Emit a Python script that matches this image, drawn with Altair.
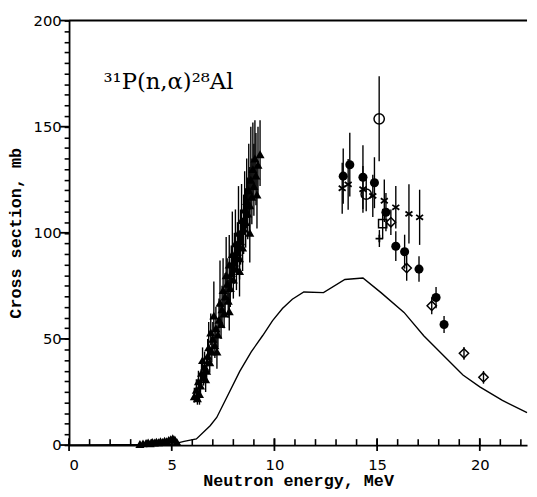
import pandas as pd
import altair as alt

# theoretical excitation curve (x = MeV, y = mb)
curve_x = [0, 5.0, 5.3, 5.6, 6.2, 6.87, 7.19, 7.67, 8.31, 8.87, 9.43, 9.91, 10.39, 10.87,
           11.43, 12.39, 13.43, 14.31, 15.19, 16.31, 17.27, 18.23, 19.18, 20.0, 21.1, 22.3]
curve_y = [0, 0.3, 1.0, 1.7, 2.9, 9.1, 13.0, 22.3, 34.7, 43.9, 51.6, 58.6, 64.3, 68.7,
           72.1, 71.8, 78.0, 78.7, 71.8, 62.5, 51.5, 42.2, 33.0, 27.4, 21.0, 15.3]

# filled triangles (low energy data sets)
tri_x = [3.45, 3.6, 3.75, 3.85, 3.95, 4.05, 4.15, 4.25, 4.35, 4.45, 4.55, 4.65, 4.75, 4.85,
         4.95, 5.05, 5.15, 5.25,
         6.10, 6.20, 6.25, 6.30, 6.40, 6.45, 6.55, 6.60, 6.50, 6.70, 6.75, 6.85, 6.80, 6.95,
         7.00, 7.10, 6.90, 7.15, 7.25, 7.30, 7.05, 7.40, 7.45, 7.35, 7.55, 7.60, 7.50, 7.75,
         7.70, 7.85, 7.65, 7.90, 8.00, 7.80, 8.05, 8.15, 7.95, 8.20, 8.30, 8.10, 8.35, 8.45,
         8.25, 8.50, 8.40, 8.60, 8.55, 8.70, 8.65, 8.80, 8.75, 8.90, 8.85, 9.00, 8.95, 9.10,
         9.05, 9.20, 9.30,
         6.35, 6.65, 7.20, 7.80, 8.30, 8.80, 9.15]
tri_y = [0.5, 0.8, 1.0, 1.2, 0.8, 1.5, 1.2, 1.6, 1.3, 1.8, 1.5, 2.0, 1.8, 2.4,
         2.8, 3.2, 2.6, 1.5,
         23, 26, 22, 30, 28, 34, 32, 37, 40, 35, 42, 39, 46, 44,
         50, 47, 53, 55, 52, 59, 61, 57, 64, 67, 62, 70, 73, 68,
         76, 74, 80, 81, 78, 85, 86, 83, 90, 91, 88, 95, 96, 93,
         100, 102, 106, 105, 111, 109, 115, 113, 120, 117, 125, 122, 130, 127,
         135, 132, 137,
         24, 31, 44, 63, 82, 100, 118]
tri_lo = [1, 1, 1, 1, 1, 1, 1, 1, 1, 1, 1, 1, 1, 1, 1, 1, 1, 1,
          3, 4, 3, 4, 4, 5, 4, 5, 5, 5, 5, 5, 6, 5,
          6, 6, 6, 7, 6, 7, 7, 7, 8, 8, 7, 8, 8, 8,
          9, 9, 9, 9, 9, 10, 10, 10, 10, 10, 10, 11, 11, 11,
          11, 12, 12, 12, 12, 12, 13, 13, 13, 13, 14, 14, 14, 14,
          15, 15, 15,
          5, 6, 8, 9, 12, 14, 16]
tri_hi = [1, 1, 1, 1, 1, 1, 1, 1, 1, 1, 1, 1, 1, 1, 1, 1, 1, 1,
          4, 5, 4, 5, 6, 6, 5, 7, 6, 6, 8, 7, 12, 7,
          8, 8, 9, 10, 8, 10, 16, 9, 11, 20, 9, 11, 15, 10,
          12, 12, 18, 13, 12, 14, 14, 13, 20, 14, 13, 16, 15, 14,
          22, 16, 17, 16, 18, 17, 20, 18, 22, 18, 25, 20, 22, 20,
          18, 18, 16,
          5, 6, 8, 9, 10, 12, 14]

# filled circles
dot_x = [13.35, 13.67, 14.31, 14.87, 15.43, 15.91, 16.34, 17.04, 17.87, 18.26]
dot_y = [126.7, 132.1, 126.2, 123.6, 109.7, 93.7, 91.1, 82.9, 69.5, 56.8]
dot_e = [13, 15, 15, 12, 9, 7, 8, 6, 5, 4]

# open circles
ring_x = [15.10, 14.47]
ring_y = [153.7, 118.2]
ring_e = [20, 8]

# crosses
cross_x = [13.30, 13.59, 14.31, 14.79, 15.35, 15.91, 16.55, 17.07]
cross_y = [121.0, 122.8, 120.5, 117.4, 115.1, 112.0, 108.9, 107.3]
cross_e = [12, 12, 11, 10, 10, 10, 14, 13]

# plus
plus_x = [15.11]
plus_y = [97.3]
plus_e = [4]

# open diamonds
dia_x = [15.67, 16.44, 17.66, 19.23, 20.18]
dia_y = [105.0, 83.4, 65.6, 43.2, 31.9]
dia_e = [6, 6, 4, 3, 3]

# open squares
sq_x = [15.27]
sq_y = [104.3]
sq_e = [7]

# axis ticks
x_minor = list(range(0, 23))
x_major = [0, 5, 10, 15, 20]
y_minor = list(range(0, 201, 5))
y_major = [0, 50, 100, 150, 200]

label = "³¹P(n,α)²⁸Al"

W, H = 465, 431
xs = alt.Scale(domain=[0, 22.3], nice=False)
ys = alt.Scale(domain=[0, 200], nice=False)

x_axis = alt.Axis(
    title="Neutron energy, MeV", values=x_minor,
    labelExpr="datum.value % 5 === 0 ? datum.label : ''",
    ticks=False, labelPadding=13, titleY=36, titleBaseline="middle",
)
y_axis = alt.Axis(
    title="Cross section, mb", values=y_minor,
    labelExpr="datum.value % 50 === 0 ? datum.label : ''",
    tickSize=5, tickWidth=1.6, tickColor="black",
    labelPadding=3, titleX=-54, titleY=H / 2, titleBaseline="middle",
)


def enc(ch):
    return ch.encode(
        x=alt.X("x:Q", scale=xs, axis=x_axis),
        y=alt.Y("y:Q", scale=ys, axis=y_axis),
    )


def frame(xv, yv, ev=None, lo=None, hi=None):
    d = pd.DataFrame({"x": xv, "y": yv})
    if ev is not None:
        lo = hi = ev
    d["lo"] = [a - b for a, b in zip(yv, lo)]
    d["hi"] = [a + b for a, b in zip(yv, hi)]
    return d


def bars(d):
    return alt.Chart(d).mark_rule(color="black", strokeWidth=1.4).encode(
        x=alt.X("x:Q", scale=xs, axis=x_axis),
        y=alt.Y("lo:Q", scale=ys, axis=y_axis),
        y2="hi:Q",
    )


tri = frame(tri_x, tri_y, lo=tri_lo, hi=tri_hi)
dots = frame(dot_x, dot_y, dot_e)
rings = frame(ring_x, ring_y, ring_e)
crosses = frame(cross_x, cross_y, cross_e)
pluses = frame(plus_x, plus_y, plus_e)
dias = frame(dia_x, dia_y, dia_e)
sqs = frame(sq_x, sq_y, sq_e)

curve = enc(alt.Chart(pd.DataFrame({"x": curve_x, "y": curve_y}))
            .mark_line(color="black", strokeWidth=1.4))

layers = [curve]
for d in [tri, dots, rings, crosses, pluses, dias, sqs]:
    layers.append(bars(d))

layers += [
    enc(alt.Chart(tri).mark_point(shape="triangle-up", filled=True, color="black",
                                  size=85, opacity=1)),
    enc(alt.Chart(dots).mark_circle(color="black", size=85, opacity=1)),
    enc(alt.Chart(rings).mark_point(shape="circle", filled=False, color="black",
                                    size=110, strokeWidth=1.5, opacity=1)),
    enc(alt.Chart(crosses).mark_point(shape="M -1 -0.7 L 1 0.7 M -1 0.7 L 1 -0.7",
                                      filled=False, color="black", size=50,
                                      strokeWidth=1.8, opacity=1)),
    enc(alt.Chart(pluses).mark_point(shape="M -1 0 L 1 0 M 0 -1 L 0 1", filled=False,
                                     color="black", size=60, strokeWidth=1.8, opacity=1)),
    enc(alt.Chart(dias).mark_point(shape="diamond", filled=False, color="black",
                                   size=90, strokeWidth=1.5, opacity=1)),
    enc(alt.Chart(sqs).mark_point(shape="square", filled=False, color="black",
                                  size=70, strokeWidth=1.5, opacity=1)),
]

# x ticks point inward, majors cross the axis; longer y majors
xmin = alt.Chart(pd.DataFrame({"x": x_minor})).mark_rule(color="black", strokeWidth=1.6).encode(
    x=alt.X("x:Q", scale=xs, axis=x_axis), y=alt.value(H - 6), y2=alt.value(H)
)
xmaj = alt.Chart(pd.DataFrame({"x": x_major})).mark_rule(color="black", strokeWidth=1.8).encode(
    x=alt.X("x:Q", scale=xs, axis=x_axis), y=alt.value(H - 7), y2=alt.value(H + 6)
)
ymaj = alt.Chart(pd.DataFrame({"y": y_major})).mark_rule(color="black", strokeWidth=1.8).encode(
    y=alt.Y("y:Q", scale=ys, axis=y_axis), x=alt.value(-9), x2=alt.value(0)
)

top_line = alt.Chart(pd.DataFrame({"t": [0]})).mark_rule(color="black", strokeWidth=2).encode(
    x=alt.value(0), x2=alt.value(W), y=alt.value(0)
)
title_text = alt.Chart(pd.DataFrame({"t": [label]})).mark_text(
    font="DejaVu Serif", fontSize=23, align="left", baseline="middle", color="black"
).encode(text="t:N", x=alt.value(35), y=alt.value(62))

chart = alt.layer(*layers, xmin, xmaj, ymaj, top_line, title_text).properties(
    width=W, height=H,
    autosize=alt.AutoSizeParams(type="none"),
    padding={"left": 62, "top": 9, "right": 2, "bottom": 48},
).configure_view(stroke=None).configure_axis(
    grid=False, domainColor="black", domainWidth=1.8,
    labelColor="black", titleColor="black", labelFont="DejaVu Sans", labelFontSize=15,
    titleFont="Liberation Mono", titleFontSize=17, titleFontWeight="bold",
)

chart.save("out.html", embed_options={"renderer": "svg", "actions": False})
